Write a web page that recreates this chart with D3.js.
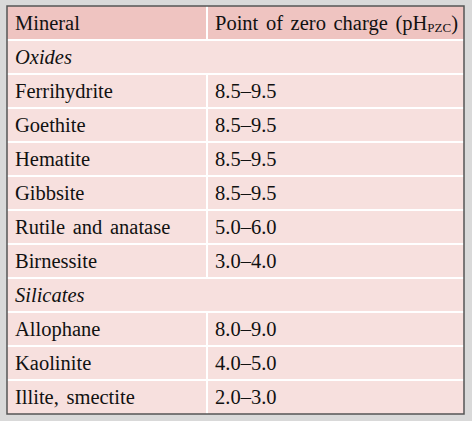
<!DOCTYPE html><html><head><meta charset="utf-8"><script src="https://cdn.jsdelivr.net/npm/d3@7"></script>
<style>body{margin:0;background:#d9d9d9}</style></head><body><script>
const header=["Mineral","Point of zero charge (pH"];
const groups=["Oxides","Silicates"];
const minerals=[["Ferrihydrite","Goethite","Hematite","Gibbsite","Rutile and anatase","Birnessite"],["Allophane","Kaolinite","Illite, smectite"]];
const pzc=[["8.5–9.5","8.5–9.5","8.5–9.5","8.5–9.5","5.0–6.0","3.0–4.0"],["8.0–9.0","4.0–5.0","2.0–3.0"]];
const rows=[];
groups.forEach((g,i)=>{rows.push({a:g,b:"",g:true});minerals[i].forEach((m,j)=>rows.push({a:m,b:pzc[i][j]}));});
const W=472,H=421,x0=7,x1=464,y0=6,y1=414,xm=207;
const svg=d3.select("body").append("svg").attr("width",W).attr("height",H);
const y=d3.scaleBand().domain(d3.range(rows.length+1)).range([y0,y1]);
const bw=y.bandwidth();
svg.append("rect").attr("x",x0).attr("y",y0).attr("width",x1-x0).attr("height",y1-y0).attr("fill","#f7e0de");
svg.append("rect").attr("x",x0).attr("y",y0).attr("width",x1-x0).attr("height",bw).attr("fill","#efc4c1");
const f="'Liberation Serif','Times New Roman',serif";
d3.range(1,rows.length+1).forEach(i=>svg.append("line").attr("x1",x0).attr("x2",x1).attr("y1",y(i)).attr("y2",y(i)).attr("stroke","#fff").attr("stroke-width",2));
rows.forEach((r,i)=>{ if(!r.g) svg.append("line").attr("x1",xm).attr("x2",xm).attr("y1",y(i+1)).attr("y2",y(i+1)+bw).attr("stroke","#fff").attr("stroke-width",2);});
svg.append("line").attr("x1",xm).attr("x2",xm).attr("y1",y(0)).attr("y2",y(0)+bw).attr("stroke","#fff").attr("stroke-width",2);
const t=(x,i,s,it)=>svg.append("text").attr("x",x).attr("y",y(i)+bw/2+7).attr("font-family",f).attr("font-size",20.5).attr("word-spacing",2.5).attr("font-style",it?"italic":"normal").attr("fill","#111").text(s);
t(15,0,header[0]);
const h=t(215,0,header[1]);
h.append("tspan").attr("font-size",13).attr("dy",2).text("PZC");h.append("tspan").attr("dy",-2).text(")");
rows.forEach((r,i)=>{t(15,i+1,r.a,r.g); if(r.b) t(215,i+1,r.b);});
svg.append("rect").attr("x",x0).attr("y",y0).attr("width",x1-x0).attr("height",y1-y0).attr("fill","none").attr("stroke","#555").attr("stroke-width",1.5);
</script></body></html>
